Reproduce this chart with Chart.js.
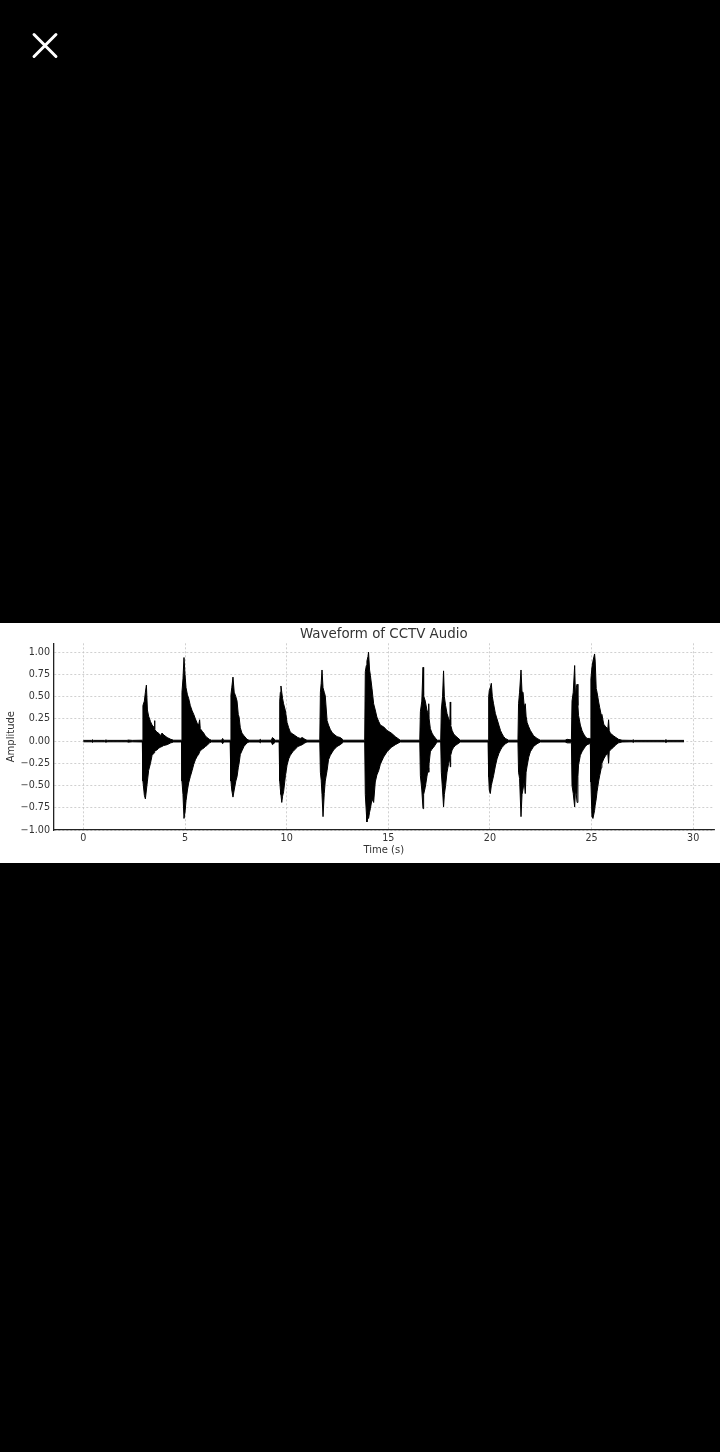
<!DOCTYPE html>
<html>
<head>
<meta charset="utf-8">
<script src="https://cdn.jsdelivr.net/npm/chart.js@4.4.1/dist/chart.umd.min.js"></script>
<style>
    html, body { margin: 0; padding: 0; background: #000; width: 720px; height: 1452px; overflow: hidden; }
    .close-bar { position: absolute; left: 28px; top: 43.5px; width: 34px; height: 3px; background: #fff; border-radius: 1.5px; transform: rotate(45deg); }
    .close-bar.second { transform: rotate(-45deg); }
    .panel { position: absolute; left: 0; top: 623px; width: 720px; height: 240px; background: #fff; }
    canvas { display: block; }
</style>
</head>
<body>
<div class="close-bar"></div>
<div class="close-bar second"></div>
<div class="panel"><canvas id="waveChart" width="720" height="240"></canvas></div>
<script>
// envelope of the waveform (seconds, max amplitude, min amplitude)
const timeSec = [
    0.00, 0.40, 0.45, 0.50, 1.05, 1.10, 1.20, 2.15, 2.20, 2.40,
    2.90, 2.93, 3.00, 3.05, 3.10, 3.15, 3.21, 3.30, 3.38, 3.46, 3.48, 3.50, 3.52, 3.62, 3.70, 3.78, 3.87, 3.95, 4.12, 4.30, 4.44,
    4.83, 4.85, 4.90, 4.95, 5.00, 5.05, 5.12, 5.18, 5.26, 5.35, 5.43, 5.51, 5.60, 5.67, 5.72, 5.75, 5.85, 5.92, 6.00, 6.08, 6.20, 6.30,
    6.80, 6.85, 6.90,
    7.22, 7.26, 7.30, 7.36, 7.42, 7.50, 7.56, 7.62, 7.66, 7.72, 7.80, 7.90, 8.05, 8.15,
    8.65, 8.70, 8.75, 9.25, 9.30, 9.45,
    9.63, 9.66, 9.69, 9.72, 9.76, 9.80, 9.85, 9.94, 10.02, 10.10, 10.18, 10.30, 10.43, 10.55, 10.67, 10.77, 10.90, 11.00,
    11.63, 11.66, 11.70, 11.74, 11.79, 11.85, 11.90, 11.99, 12.06, 12.15, 12.23, 12.31, 12.48, 12.64, 12.80,
    13.84, 13.87, 13.92, 13.95, 14.00, 14.03, 14.08, 14.12, 14.20, 14.28, 14.36, 14.44, 14.53, 14.61, 14.69, 14.77, 14.94, 15.15, 15.35, 15.59,
    16.55, 16.58, 16.65, 16.71, 16.74, 16.82, 16.90, 16.97, 16.99, 17.01, 17.07, 17.15, 17.23, 17.40,
    17.58, 17.61, 17.67, 17.72, 17.76, 17.82, 17.89, 17.97, 18.03, 18.05, 18.07, 18.14, 18.22, 18.30, 18.55,
    19.91, 19.94, 19.97, 20.02, 20.07, 20.12, 20.18, 20.27, 20.35, 20.44, 20.52, 20.60, 20.68, 20.76, 20.92,
    21.38, 21.41, 21.46, 21.53, 21.58, 21.63, 21.69, 21.74, 21.78, 21.83, 21.91, 21.99, 22.07, 22.15, 22.32, 22.48,
    23.70, 23.80, 23.95,
    24.01, 24.04, 24.10, 24.17, 24.21, 24.25, 24.29, 24.33, 24.36, 24.45, 24.53, 24.61, 24.70, 24.78, 24.90,
    24.94, 24.97, 25.02, 25.07, 25.15, 25.18, 25.23, 25.27, 25.35, 25.40, 25.48, 25.51, 25.60, 25.70, 25.80, 25.84, 25.87, 25.92, 26.08, 26.20, 26.33, 26.50,
    27.00, 27.05, 27.10, 28.60, 28.66, 28.72, 29.55,
];

const upperAmp = [
    0.008, 0.008, 0.015, 0.008, 0.008, 0.012, 0.008, 0.008, 0.012, 0.008,
    0.01, 0.40, 0.45, 0.55, 0.63, 0.35, 0.28, 0.22, 0.18, 0.16, 0.14, 0.23, 0.13, 0.10, 0.09, 0.06, 0.09, 0.07, 0.04, 0.02, 0.01,
    0.01, 0.55, 0.70, 0.94, 0.75, 0.60, 0.52, 0.48, 0.40, 0.34, 0.30, 0.25, 0.20, 0.18, 0.24, 0.14, 0.11, 0.09, 0.06, 0.04, 0.02, 0.01,
    0.01, 0.03, 0.01,
    0.01, 0.52, 0.60, 0.72, 0.55, 0.50, 0.45, 0.30, 0.27, 0.15, 0.09, 0.06, 0.02, 0.01,
    0.01, 0.02, 0.01, 0.01, 0.04, 0.01,
    0.01, 0.45, 0.55, 0.62, 0.55, 0.48, 0.42, 0.34, 0.21, 0.15, 0.10, 0.08, 0.06, 0.04, 0.03, 0.04, 0.02, 0.01,
    0.01, 0.55, 0.65, 0.80, 0.60, 0.55, 0.51, 0.23, 0.18, 0.13, 0.10, 0.08, 0.05, 0.04, 0.01,
    0.01, 0.78, 0.85, 0.90, 0.95, 1.00, 0.80, 0.74, 0.59, 0.42, 0.35, 0.27, 0.22, 0.18, 0.17, 0.16, 0.12, 0.09, 0.05, 0.01,
    0.01, 0.33, 0.45, 0.83, 0.51, 0.45, 0.35, 0.30, 0.42, 0.25, 0.14, 0.09, 0.06, 0.01,
    0.01, 0.35, 0.50, 0.79, 0.50, 0.40, 0.31, 0.25, 0.22, 0.44, 0.18, 0.12, 0.08, 0.06, 0.01,
    0.01, 0.50, 0.57, 0.60, 0.65, 0.50, 0.42, 0.31, 0.25, 0.18, 0.12, 0.08, 0.05, 0.03, 0.01,
    0.01, 0.42, 0.55, 0.80, 0.55, 0.55, 0.38, 0.42, 0.28, 0.21, 0.16, 0.12, 0.09, 0.06, 0.03, 0.01,
    0.01, 0.02, 0.015,
    0.02, 0.45, 0.55, 0.85, 0.50, 0.60, 0.64, 0.40, 0.29, 0.18, 0.12, 0.08, 0.05, 0.03, 0.03,
    0.03, 0.70, 0.83, 0.90, 0.98, 0.90, 0.59, 0.55, 0.44, 0.38, 0.29, 0.30, 0.19, 0.16, 0.14, 0.24, 0.12, 0.09, 0.06, 0.04, 0.02, 0.01,
    0.008, 0.015, 0.008, 0.008, 0.015, 0.008, 0.008,
];

const lowerAmp = [
    -0.008, -0.008, -0.015, -0.008, -0.008, -0.012, -0.008, -0.008, -0.012, -0.008,
    -0.01, -0.45, -0.61, -0.65, -0.55, -0.45, -0.33, -0.25, -0.16, -0.14, -0.13, -0.12, -0.11, -0.10, -0.08, -0.07, -0.06, -0.05, -0.04, -0.02, -0.01,
    -0.01, -0.45, -0.60, -0.87, -0.80, -0.67, -0.55, -0.47, -0.40, -0.33, -0.26, -0.21, -0.17, -0.15, -0.12, -0.11, -0.09, -0.08, -0.06, -0.05, -0.02, -0.01,
    -0.01, -0.03, -0.01,
    -0.01, -0.45, -0.55, -0.63, -0.55, -0.45, -0.40, -0.30, -0.25, -0.15, -0.11, -0.06, -0.02, -0.01,
    -0.01, -0.02, -0.01, -0.01, -0.04, -0.01,
    -0.01, -0.45, -0.54, -0.60, -0.69, -0.62, -0.57, -0.39, -0.27, -0.20, -0.16, -0.12, -0.09, -0.06, -0.05, -0.04, -0.02, -0.01,
    -0.01, -0.35, -0.44, -0.60, -0.85, -0.59, -0.45, -0.33, -0.21, -0.16, -0.13, -0.10, -0.06, -0.04, -0.01,
    -0.01, -0.60, -0.80, -0.91, -0.85, -0.87, -0.80, -0.76, -0.65, -0.69, -0.46, -0.38, -0.33, -0.26, -0.22, -0.18, -0.12, -0.07, -0.04, -0.01,
    -0.01, -0.39, -0.55, -0.76, -0.60, -0.52, -0.40, -0.30, -0.35, -0.25, -0.12, -0.09, -0.07, -0.01,
    -0.01, -0.35, -0.55, -0.74, -0.60, -0.50, -0.35, -0.25, -0.20, -0.29, -0.16, -0.10, -0.07, -0.05, -0.01,
    -0.01, -0.40, -0.55, -0.59, -0.50, -0.45, -0.39, -0.28, -0.20, -0.14, -0.10, -0.07, -0.05, -0.03, -0.01,
    -0.01, -0.35, -0.42, -0.85, -0.60, -0.54, -0.45, -0.59, -0.35, -0.28, -0.18, -0.12, -0.09, -0.06, -0.03, -0.01,
    -0.01, -0.02, -0.02,
    -0.02, -0.50, -0.59, -0.74, -0.55, -0.60, -0.69, -0.40, -0.27, -0.16, -0.12, -0.09, -0.06, -0.04, -0.03,
    -0.03, -0.46, -0.85, -0.87, -0.78, -0.72, -0.65, -0.57, -0.45, -0.39, -0.30, -0.25, -0.20, -0.16, -0.14, -0.25, -0.12, -0.10, -0.07, -0.04, -0.02, -0.01,
    -0.008, -0.015, -0.008, -0.008, -0.015, -0.008, -0.008,
];

const xTicks = [0, 5, 10, 15, 20, 25, 30];
const yTicks = [-1.0, -0.75, -0.5, -0.25, 0, 0.25, 0.5, 0.75, 1.0];

const textColor = '#333';
const gridColor = '#c4c4c4';
const fontFamily = "'DejaVu Sans', sans-serif";

const upperPoints = timeSec.map((t, i) => ({ x: t, y: upperAmp[i] }));
const lowerPoints = timeSec.map((t, i) => ({ x: t, y: lowerAmp[i] }));

function formatAmp(value) {
    return Number(value).toFixed(2).replace('-', '\u2212');
}

new Chart(document.getElementById('waveChart'), {
    type: 'line',
    data: {
        datasets: [
            {
                label: 'max',
                data: upperPoints,
                borderColor: '#000',
                backgroundColor: '#000',
                borderWidth: 1,
                pointRadius: 0,
                tension: 0,
                fill: '+1',
            },
            {
                label: 'min',
                data: lowerPoints,
                borderColor: '#000',
                borderWidth: 1,
                pointRadius: 0,
                tension: 0,
                fill: false,
            },
        ],
    },
    options: {
        responsive: false,
        animation: false,
        layout: { padding: { left: 0, right: 5.7, top: 0, bottom: 0 } },
        plugins: {
            legend: { display: false },
            tooltip: { enabled: false },
        },
        scales: {
            // top axis only carries the title, so it is centred over the plot area
            titleAxis: {
                type: 'linear',
                position: 'top',
                min: -1.48,
                max: 31.04,
                afterFit: (scale) => { scale.height = 20.3; },
                ticks: { display: false },
                grid: { display: false, drawTicks: false },
                border: { display: false },
                title: {
                    display: true,
                    text: 'Waveform of CCTV Audio',
                    color: textColor,
                    font: { family: fontFamily, size: 13.4, weight: 'normal' },
                    padding: { top: 3, bottom: 0 },
                },
            },
            x: {
                type: 'linear',
                position: 'bottom',
                min: -1.48,
                max: 31.04,
                afterBuildTicks: (scale) => { scale.ticks = xTicks.map((v) => ({ value: v })); },
                afterFit: (scale) => { scale.height = 33; },
                ticks: {
                    color: textColor,
                    font: { family: fontFamily, size: 9.6 },
                    padding: 2.5,
                    maxRotation: 0,
                    callback: (value) => String(value),
                },
                grid: { color: gridColor, lineWidth: 0.8, drawTicks: false },
                border: { display: true, color: '#222', width: 1.3, dash: [2, 2] },
                title: {
                    display: true,
                    text: 'Time (s)',
                    color: textColor,
                    font: { family: fontFamily, size: 10 },
                    padding: { top: 0, bottom: 6.3 },
                },
            },
            y: {
                min: -1.0,
                max: 1.1,
                afterBuildTicks: (scale) => { scale.ticks = yTicks.map((v) => ({ value: v })); },
                afterFit: (scale) => { scale.width = 53.3; },
                ticks: {
                    color: textColor,
                    font: { family: fontFamily, size: 9.6 },
                    padding: 3.3,
                    callback: (value) => formatAmp(value),
                },
                grid: { color: gridColor, lineWidth: 0.8, drawTicks: false },
                border: { display: true, color: '#222', width: 1.3, dash: [2, 2] },
                title: {
                    display: true,
                    text: 'Amplitude',
                    color: textColor,
                    font: { family: fontFamily, size: 10 },
                    padding: { top: 5, bottom: 0 },
                },
            },
        },
    },
});
</script>
</body>
</html>
